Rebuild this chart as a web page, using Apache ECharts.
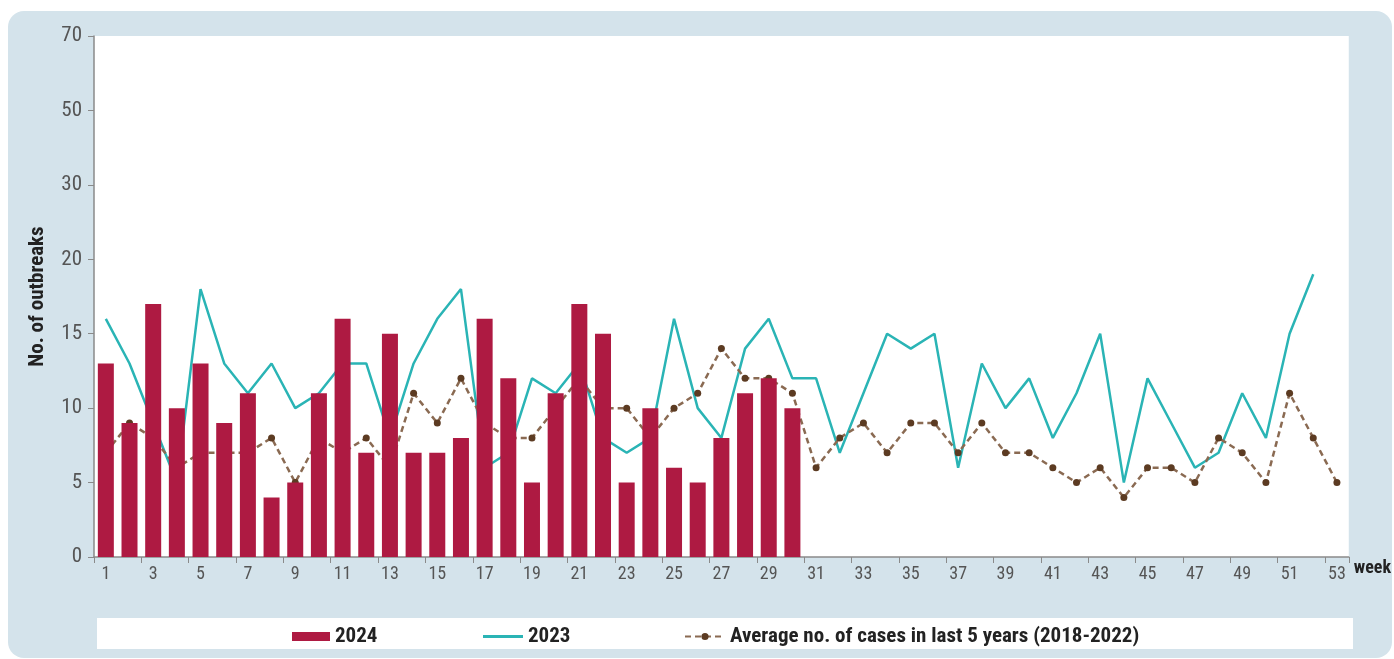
<!DOCTYPE html>
<html>
<head>
<meta charset="utf-8">
<script src="https://cdn.jsdelivr.net/npm/echarts@6/dist/echarts.min.js"></script>
<style>
  html, body { margin: 0; padding: 0; background: #ffffff; }
  #chart { width: 1394px; height: 659px; }
</style>
</head>
<body>
<div id="chart"></div>
<script>
// weeks 1..53
var weeks = [];
for (var i = 1; i <= 53; i++) weeks.push(String(i));

// 2024 outbreaks (weeks 1-30)
var cases2024 = [13, 9, 17, 10, 13, 9, 11, 4, 5, 11, 16, 7, 15, 7, 7, 8, 16, 12, 5, 11,
  17, 15, 5, 10, 6, 5, 8, 11, 12, 10];

// 2023 outbreaks (weeks 1-52)
var cases2023 = [16, 13, 9, 5, 18, 13, 11, 13, 10, 11, 13, 13, 8, 13, 16, 18, 6, 7, 12, 11,
  13, 8, 7, 8, 16, 10, 8, 14, 16, 12, 12, 7, 11, 15, 14, 15, 6, 13, 10, 12,
  8, 11, 15, 5, 12, 9, 6, 7, 11, 8, 15, 19];

// average last 5 years (weeks 1-53)
var avg5y = [7, 9, 8, 6, 7, 7, 7, 8, 5, 8, 7, 8, 6, 11, 9, 12, 9, 8, 8, 10,
  12, 10, 10, 8, 10, 11, 14, 12, 12, 11, 6, 8, 9, 7, 9, 9, 7, 9, 7, 7,
  6, 5, 6, 4, 6, 6, 5, 8, 7, 5, 11, 8, 5];

// y axis is broken: 0-20 in steps of 5, then 30, 50, 70
var yTicks = [0, 5, 10, 15, 20, 30, 50, 70];

// map a real value onto the evenly spaced tick positions
function toPos(v) {
  for (var k = 1; k < yTicks.length; k++) {
    if (v <= yTicks[k]) {
      return (k - 1) + (v - yTicks[k - 1]) / (yTicks[k] - yTicks[k - 1]);
    }
  }
  return yTicks.length - 1;
}

var font = '"Liberation Sans Narrow", "Roboto Condensed", "DejaVu Sans Condensed", sans-serif';
var avgName = 'Average no. of cases in last 5 years (2018-2022)';
var legendText = { fontFamily: font, fontSize: 21, fontWeight: 'bold', color: '#222' };

var chart = echarts.init(document.getElementById('chart'));

chart.setOption({
  backgroundColor: '#ffffff',
  animation: false,
  textStyle: { fontFamily: font },
  graphic: [
    {
      type: 'rect',
      z: -10,
      shape: { x: 8, y: 11, width: 1384, height: 647, r: 16 },
      style: { fill: '#d4e3eb' }
    },
    {
      type: 'rect',
      z: -9,
      shape: { x: 97, y: 618, width: 1256, height: 31 },
      style: { fill: '#ffffff' }
    }
  ],
  grid: {
    left: 94,
    right: 45,
    top: 36,
    bottom: 102,
    show: true,
    backgroundColor: '#ffffff',
    borderWidth: 0
  },
  legend: [
    {
      top: 621, left: 287, itemWidth: 38, itemHeight: 9, itemGap: 8,
      textStyle: legendText,
      data: [{ name: '2024', icon: 'rect' }]
    },
    {
      top: 621, left: 478, itemWidth: 40, itemHeight: 3, itemGap: 8,
      textStyle: legendText,
      data: [{ name: '2023', icon: 'rect' }]
    },
    {
      top: 621, left: 679, itemWidth: 40, itemHeight: 9, itemGap: 8,
      textStyle: legendText,
      data: [{ name: avgName }]
    }
  ],
  xAxis: {
    type: 'category',
    data: weeks,
    boundaryGap: true,
    name: 'week',
    nameLocation: 'end',
    nameGap: 5,
    nameTextStyle: { fontFamily: font, fontSize: 18, fontWeight: 'bold', color: '#222', verticalAlign: 'top', padding: [2, 0, 0, 0] },
    axisLine: { lineStyle: { color: '#8a8a8a', width: 1.5 } },
    axisTick: { show: true, length: 6, lineStyle: { color: '#8a8a8a' } },
    axisLabel: { interval: 1, fontSize: 18, color: '#555', margin: 8 },
    splitLine: { show: false }
  },
  yAxis: {
    type: 'value',
    min: 0,
    max: 7,
    interval: 1,
    name: 'No. of outbreaks',
    nameLocation: 'middle',
    nameGap: 46,
    nameTextStyle: { fontFamily: font, fontSize: 21, fontWeight: 'bold', color: '#222' },
    axisLine: { show: true, lineStyle: { color: '#8a8a8a', width: 1.5 } },
    axisTick: { show: true, length: 6, lineStyle: { color: '#8a8a8a' } },
    axisLabel: {
      fontSize: 21, color: '#555', margin: 12,
      formatter: function (v) { return String(yTicks[Math.round(v)]); }
    },
    splitLine: { show: false }
  },
  series: [
    {
      name: '2024',
      type: 'bar',
      z: 5,
      barWidth: 16,
      itemStyle: { color: '#ae1a42' },
      data: cases2024.map(toPos)
    },
    {
      name: '2023',
      type: 'line',
      z: 2,
      symbol: 'none',
      lineStyle: { color: '#2ab4b5', width: 2.5 },
      itemStyle: { color: '#2ab4b5' },
      data: cases2023.map(toPos)
    },
    {
      name: avgName,
      type: 'line',
      z: 3,
      symbol: 'circle',
      symbolSize: 7,
      lineStyle: { color: '#8a6a52', width: 2.5, type: [6, 4] },
      itemStyle: { color: '#5c3b22' },
      data: avg5y.map(toPos)
    }
  ]
});
</script>
</body>
</html>
